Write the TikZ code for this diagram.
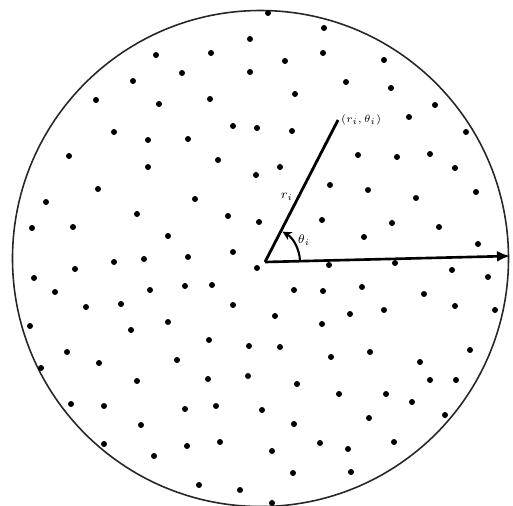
\documentclass[tikz,border=0pt]{standalone}
\usetikzlibrary{arrows.meta, positioning}
\tikzset{
  dot/.style = {circle, fill=black, inner sep=0pt, minimum size=1.2mm},
  rim/.style = {draw=black!85, line width=0.9pt},
  ray/.style = {line width=1.6pt},
  axis/.style = {-{Latex[length=2.6mm, width=2.2mm]}, line width=1.5pt},
  angarc/.style = {-{Stealth[length=1.8mm, width=1.8mm]}, line width=1.2pt},
  lbl/.style = {inner sep=0.5pt, font=\fontsize{6}{7}\selectfont}
}

\begin{document}
\begin{tikzpicture}[x=0.02cm, y=-0.02cm]
\useasboundingbox (0,0) rectangle (513,505);

% Boundary
\draw[rim] (260.5,258.5) circle[radius=248];

% Scattered points
\foreach \px/\py [count=\i] in {
  % top
  268/13, 324/28, 250/39, 211/53, 156/55, 323/53, 285/61, 384/60, 182/73, 250/72,
  133/81, 346/82, 391/88, 295/94, 96/100, 210/99, 159/104, 435/105, 409/117, 233/126,
  257/128, 292/131, 114/132, 466/132, 148/140, 188/139, 358/155, 397/157, 430/154, 69/156,
  218/160, 280/167, 148/167, 455/168,
  % middle
  256/175, 330/185, 98/189, 368/190, 476/192, 195/199, 416/198, 46/202, 137/214,
  228/216, 322/220, 259/222, 392/223, 439/227, 32/228, 73/227, 168/236, 364/237, 478/244,
  233/252, 188/257, 144/259, 114/262, 75/269, 257/268, 329/265, 395/263, 452/270, 34/278,
  488/277, 212/285, 185/286, 362/287, 150/290, 294/290, 323/291, 55/292, 424/294, 233/305,
  86/307, 121/304, 455/306, 384/310, 495/310, 350/314, 275/316, 30/326, 168/322, 322/324,
  131/330,
  % bottom
  209/340, 249/346, 280/347, 67/352, 331/357, 370/352, 420/362, 470/350, 177/360, 99/363,
  41/368, 208/379, 248/376, 137/381, 297/384, 430/380, 456/380, 339/394, 386/394, 412/402,
  71/404, 104/406, 185/409, 216/406, 262/410, 369/418, 445/415, 294/424, 141/425, 320/443,
  187/446, 220/442, 348/449, 394/442, 104/444, 272/451, 154/456, 293/473, 351/472, 199/485,
  240/490, 272/503}
  \node[dot] (d\i) at (\px,\py) {};

% Radius vector and reference axis
\coordinate (O) at (265,262);
\coordinate (P) at (338,120);
\coordinate (E) at (510,256);

\draw[axis] (O) -- (E);
\draw[ray] (O) -- (P);

\node[lbl, right=0.4mm of P] (plbl) {$(r_i,\theta_i)$};
\node[lbl, font=\fontsize{7}{8}\selectfont] (rlbl) at (287,197) {$r_i$};
\node[lbl, font=\fontsize{7}{8}\selectfont] (tlbl) at (304,240) {$\theta_i$};

% Angle mark
\draw[angarc] ([shift={(-2:35)}]O) arc[start angle=-2, end angle=-60, radius=35];

\end{tikzpicture}
\end{document}
